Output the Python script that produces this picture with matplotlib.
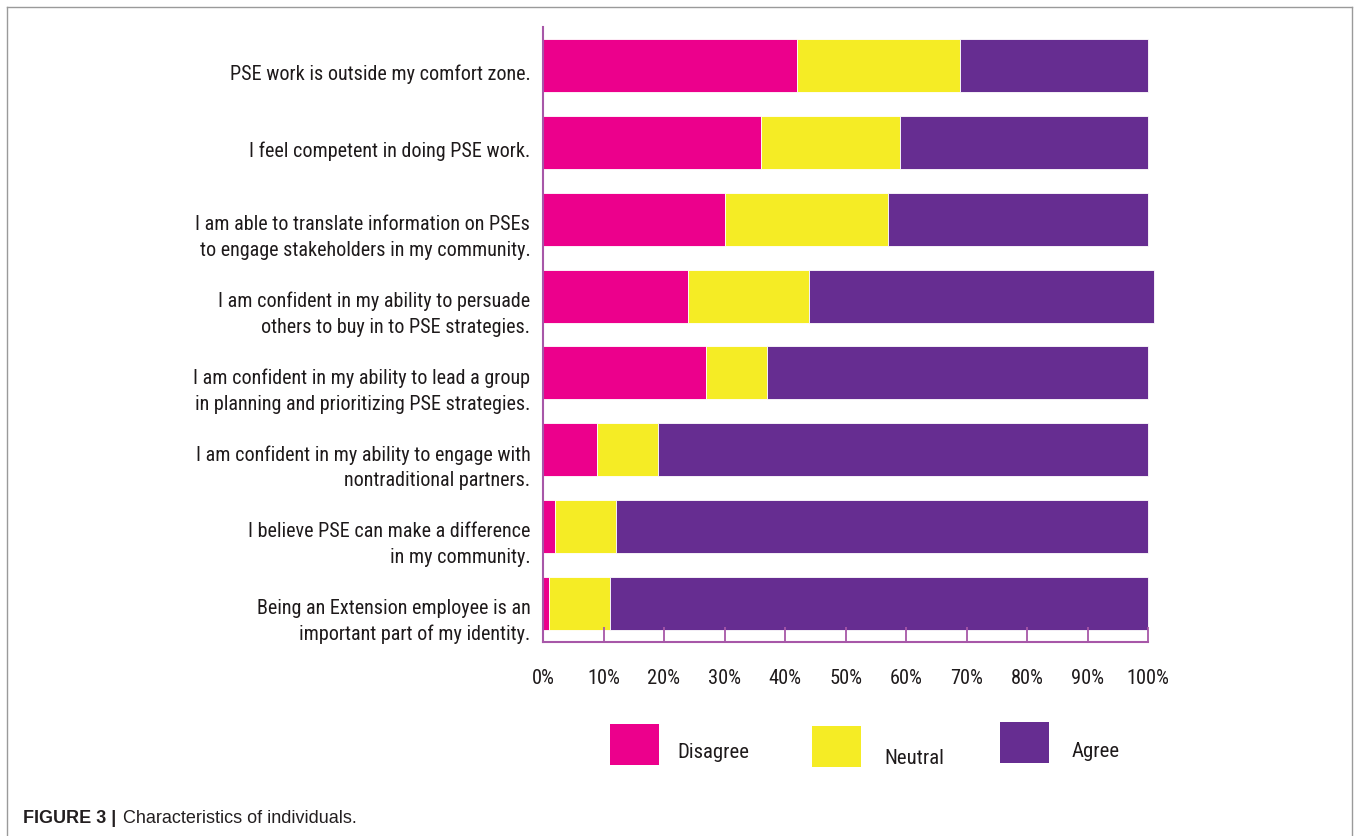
import numpy as np
import matplotlib.pyplot as plt
from matplotlib import font_manager
from matplotlib.patches import Rectangle
from matplotlib.lines import Line2D
import matplotlib.transforms as mtransforms

statements = [
    "PSE work is outside my comfort zone.",
    "I feel competent in doing PSE work.",
    "I am able to translate information on PSEs\nto engage stakeholders in my community.",
    "I am confident in my ability to persuade\nothers to buy in to PSE strategies.",
    "I am confident in my ability to lead a group\nin planning and prioritizing PSE strategies.",
    "I am confident in my ability to engage with\nnontraditional partners.",
    "I believe PSE can make a difference\nin my community.",
    "Being an Extension employee is an\nimportant part of my identity.",
]
disagree = [42, 36, 30, 24, 27, 9, 2, 1]
neutral = [27, 23, 27, 20, 10, 10, 10, 10]
agree = [31, 41, 43, 57, 63, 81, 88, 89]
ticks = [0, 10, 20, 30, 40, 50, 60, 70, 80, 90, 100]
series = ["Disagree", "Neutral", "Agree"]
colors = ["#EC008C", "#F5EC25", "#662D91"]


# look for a narrow sans face (the original uses a condensed font)
def pick_narrow():
    fl = font_manager.fontManager.ttflist
    for want in ['Liberation Sans Narrow', 'Roboto Condensed', 'Open Sans Condensed']:
        for f in fl:
            if f.name == want and f.weight in (400, 'normal', 'regular') and f.style == 'normal':
                return font_manager.FontProperties(fname=f.fname)
    for f in fl:
        n = (f.name + f.fname).lower()
        if ('condensed' in n or 'narrow' in n) and 'bold' not in n and 'oblique' not in n \
                and 'italic' not in n and 'mono' not in n and 'serif' not in n.replace('sans', ''):
            return font_manager.FontProperties(fname=f.fname)
    return font_manager.FontProperties(family='DejaVu Sans')


fp = pick_narrow()
ink = "#1E1A1B"
axis_col = "#A757A8"

fig = plt.figure(figsize=(13.58, 8.37), dpi=100)
rend = fig.canvas.get_renderer()


def fit(s, px):
    t = fig.text(0, 0, s, fontproperties=fp, fontsize=20)
    w = t.get_window_extent(rend).width
    t.remove()
    return 20 * px / w


fs_lab = fit("PSE work is outside my comfort zone.", 300)
fs_tick = fit("100%", 43)
fs_leg = fit("Disagree", 72)
ls = 29.2 / (fs_lab * 100 / 72)

ax = fig.add_axes([543/1358, 1 - 643/837, 605/1358, 615/837])

y = np.arange(len(statements))
left = np.zeros(len(statements))
for vals, col in zip([disagree, neutral, agree], colors):
    ax.barh(y, vals, left=left, height=0.69, color=col, edgecolor='white', linewidth=0.6,
            clip_on=False)
    left = left + np.array(vals)

ax.set_xlim(0, 100)
ax.set_ylim(len(statements) - 0.5, -0.5)
ax.set_yticks([])
ax.set_xticks(ticks)
ax.set_xticklabels([f"{t}%" for t in ticks], fontproperties=fp, fontsize=fs_tick, color=ink)
ax.tick_params(axis='x', direction='in', length=11, width=1.3, color=axis_col, pad=19)
for s in ['top', 'right']:
    ax.spines[s].set_visible(False)
for s in ['left', 'bottom']:
    ax.spines[s].set_color(axis_col)
    ax.spines[s].set_linewidth(1.5)

for i, lab in enumerate(statements):
    nl = lab.count("\n")
    off = mtransforms.ScaledTranslation(0, -(7.5 + 9.5 * nl) / 100, fig.dpi_scale_trans)
    tr = mtransforms.blended_transform_factory(ax.transAxes, ax.transData) + off
    ax.text(-0.021, i, lab, transform=tr, ha='right', va='center', fontproperties=fp,
            fontsize=fs_lab, linespacing=ls, color=ink)

# legend
leg = [(610, 725, 677, 753), (812, 727, 884, 759), (1000, 723, 1072, 752)]
for (sx, sy, tx, ty), name, col in zip(leg, series, colors):
    fig.patches.append(Rectangle((sx/1358, 1 - (sy+41)/837), 49/1358, 41/837,
                                 transform=fig.transFigure, facecolor=col, edgecolor='none'))
    fig.text(tx/1358, 1 - ty/837, name, fontproperties=fp, fontsize=fs_leg,
             va='center', ha='left', color=ink)

# frame
fc = "#9A9A9A"
fig.add_artist(Line2D([7/1358, 7/1358], [0, 1 - 8/837], transform=fig.transFigure, color=fc, lw=1))
fig.add_artist(Line2D([7/1358, 1352/1358], [1 - 8/837, 1 - 8/837], transform=fig.transFigure, color=fc, lw=1))
fig.add_artist(Line2D([1352/1358, 1352/1358], [0, 1 - 8/837], transform=fig.transFigure, color=fc, lw=1))

# caption
fig.text(23/1358, 1 - 819/837, "FIGURE 3 |", fontsize=13, fontweight='bold',
         family='Liberation Sans', color="#231F20", va='center')
fig.text(123/1358, 1 - 819/837, "Characteristics of individuals.", fontsize=13,
         family='Liberation Sans', color="#231F20", va='center')

plt.savefig('out.png', dpi=100)
